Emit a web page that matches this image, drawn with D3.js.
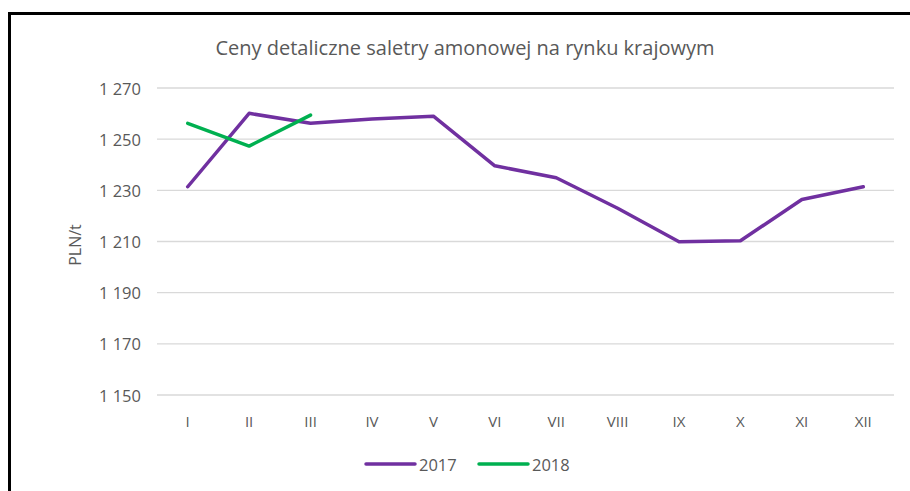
<!DOCTYPE html>
<html>
<head>
<meta charset="utf-8">
<script src="https://cdn.jsdelivr.net/npm/d3@7"></script>
<style>
  body { margin: 0; background: #fff; }
  svg { display: block; font-family: "Open Sans", "Noto Sans", sans-serif; }
</style>
</head>
<body>
<svg id="chart"></svg>
<script>
const width = 910;
const height = 491;

// dane
const months = ["I", "II", "III", "IV", "V", "VI", "VII", "VIII", "IX", "X", "XI", "XII"];
const values2017 = [1231.4, 1260.1, 1256.2, 1257.9, 1259.0, 1239.6, 1234.9, 1223.0, 1209.9, 1210.3, 1226.4, 1231.4];
const values2018 = [1256.2, 1247.3, 1259.4];
const yTicks = [1150, 1170, 1190, 1210, 1230, 1250, 1270];
const seriesNames = ["2017", "2018"];
const seriesColors = ["#7030a0", "#00b050"];

const svg = d3.select("#chart")
    .attr("width", width)
    .attr("height", height);

// ramka
svg.append("path")
    .attr("d", "M9.5," + height + " V13.5 H" + width)
    .attr("fill", "none")
    .attr("stroke", "#000")
    .attr("stroke-width", 3);

const x = d3.scaleBand()
    .domain(months)
    .range([157, 894]);

const y = d3.scaleLinear()
    .domain([1150, 1270])
    .range([395, 88]);

// linie siatki
svg.append("g")
    .selectAll("line")
    .data(yTicks)
    .enter().append("line")
    .attr("x1", 157)
    .attr("x2", 894)
    .attr("y1", d => y(d))
    .attr("y2", d => y(d))
    .attr("stroke", "#d9d9d9")
    .attr("stroke-width", 1.3);

// oś Y
const fmt = d => d3.format(",")(d).replace(",", " ");
svg.append("g")
    .selectAll("text")
    .data(yTicks)
    .enter().append("text")
    .attr("x", 141)
    .attr("y", d => y(d))
    .attr("dominant-baseline", "central")
    .attr("text-anchor", "end")
    .attr("fill", "#595959")
    .attr("font-size", 16.5)
    .text(fmt);

// oś X
svg.append("g")
    .selectAll("text")
    .data(months)
    .enter().append("text")
    .attr("x", d => x(d) + x.bandwidth() / 2)
    .attr("y", 421)
    .attr("dominant-baseline", "central")
    .attr("text-anchor", "middle")
    .attr("fill", "#595959")
    .attr("font-size", 15)
    .text(d => d);

svg.append("text")
    .attr("transform", "translate(75,245) rotate(-90)")
    .attr("text-anchor", "middle")
    .attr("dominant-baseline", "central")
    .attr("fill", "#595959")
    .attr("font-size", 16)
    .text("PLN/t");

svg.append("text")
    .attr("x", 465)
    .attr("y", 47)
    .attr("text-anchor", "middle")
    .attr("dominant-baseline", "central")
    .attr("fill", "#595959")
    .attr("font-size", 20)
    .text("Ceny detaliczne saletry amonowej na rynku krajowym");

// serie
const line = d3.line()
    .x((d, i) => x(months[i]) + x.bandwidth() / 2)
    .y(d => y(d));

[values2017, values2018].forEach(function(vals, i) {
    svg.append("path")
        .datum(vals)
        .attr("d", line)
        .attr("fill", "none")
        .attr("stroke", seriesColors[i])
        .attr("stroke-width", 3.5)
        .attr("stroke-linejoin", "round")
        .attr("stroke-linecap", "round");
});

// legenda
const legend = svg.append("g")
    .selectAll("g")
    .data(seriesNames)
    .enter().append("g")
    .attr("transform", (d, i) => "translate(" + (366 + i * 113) + ",464)");

legend.append("line")
    .attr("x1", 0)
    .attr("x2", 49)
    .attr("stroke", (d, i) => seriesColors[i])
    .attr("stroke-width", 3.5)
    .attr("stroke-linecap", "round");

legend.append("text")
    .attr("x", 53)
    .attr("dominant-baseline", "central")
    .attr("fill", "#595959")
    .attr("font-size", 16.5)
    .text(d => d);
</script>
</body>
</html>
